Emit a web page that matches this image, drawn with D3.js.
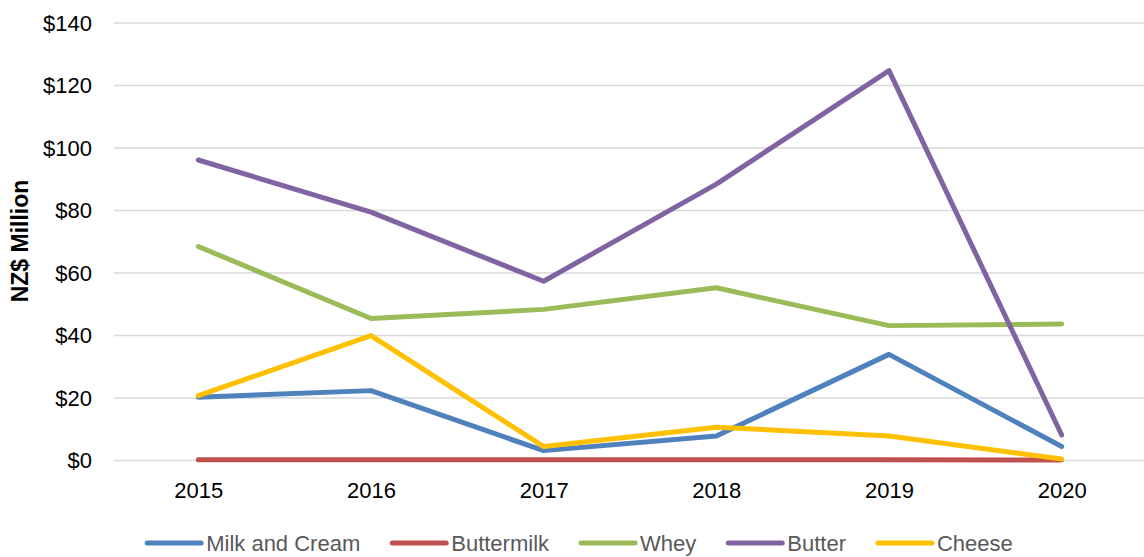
<!DOCTYPE html>
<html>
<head>
<meta charset="utf-8">
<script src="https://cdn.jsdelivr.net/npm/d3@7"></script>
<style>
  html, body { margin: 0; padding: 0; background: #fff; }
  svg { display: block; }
  text { font-family: "Liberation Sans", Arial, sans-serif; }
</style>
</head>
<body>
<svg id="chart" width="1144" height="557"></svg>
<script>
// Dairy export values by product, NZ$ million
const years = ["2015", "2016", "2017", "2018", "2019", "2020"];
const seriesNames = ["Milk and Cream", "Buttermilk", "Whey", "Butter", "Cheese"];
const milkAndCream = [20.1, 22.2, 3.0, 7.7, 33.8, 4.3];
const buttermilk   = [0.1, 0.1, 0.1, 0.1, 0.1, 0.0];
const whey         = [68.3, 45.3, 48.2, 55.1, 43.0, 43.5];
const butter       = [96.0, 79.3, 57.2, 88.3, 124.6, 8.0];
const cheese       = [20.6, 39.8, 4.3, 10.5, 7.7, 0.3];
const yTicks = [0, 20, 40, 60, 80, 100, 120, 140];
const seriesColors = ["#4f81bd", "#c0504d", "#9bbb59", "#8064a2", "#ffc000"];

const series = [milkAndCream, buttermilk, whey, butter, cheese].map((values, i) => ({
  name: seriesNames[i],
  color: seriesColors[i],
  values
}));

const svg = d3.select("#chart");
const plot = { left: 112, right: 1148, top: 22.5, bottom: 460 };

const x = d3.scalePoint().domain(years).range([plot.left, plot.right]).padding(0.5);
const y = d3.scaleLinear().domain([0, 140]).range([plot.bottom, plot.top]);

// Horizontal gridlines
const yAxis = d3.axisLeft(y)
  .tickValues(yTicks)
  .tickSize(-(1144 - plot.left - 2))
  .tickPadding(22)
  .tickFormat(d => "$" + d);

const yg = svg.append("g")
  .attr("transform", `translate(${plot.left + 2},0)`)
  .call(yAxis);
yg.select(".domain").remove();
yg.selectAll(".tick line").attr("stroke", "#d9d9d9").attr("stroke-width", 1.6);
yg.selectAll(".tick text")
  .attr("fill", "#000")
  .style("font-size", "22px")
  .attr("dy", "0.35em");

// Year labels
const xAxis = d3.axisBottom(x).tickSize(0).tickPadding(0);
const xg = svg.append("g").attr("transform", `translate(0,${plot.bottom})`).call(xAxis);
xg.select(".domain").remove();
xg.selectAll(".tick text")
  .attr("fill", "#000")
  .style("font-size", "22px")
  .attr("y", 38)
  .attr("dy", 0);

// Axis title
svg.append("text")
  .attr("transform", "translate(28,241) rotate(-90)")
  .attr("text-anchor", "middle")
  .style("font-size", "23px")
  .style("font-weight", "bold")
  .attr("fill", "#000")
  .text("NZ$ Million");

// Series lines
const line = d3.line()
  .x((d, i) => x(years[i]))
  .y(d => y(d));

svg.append("g").selectAll("path")
  .data(series)
  .join("path")
  .attr("d", d => line(d.values))
  .attr("fill", "none")
  .attr("stroke", d => d.color)
  .attr("stroke-width", 5)
  .attr("stroke-linejoin", "round")
  .attr("stroke-linecap", "round");

// Legend
const legend = svg.append("g").attr("transform", "translate(0,543)");
const swatch = 54, gap = 5, itemGap = 32;
const items = legend.selectAll("g").data(series).join("g");
items.append("line")
  .attr("x1", 0).attr("x2", swatch)
  .attr("y1", 0).attr("y2", 0)
  .attr("stroke", d => d.color)
  .attr("stroke-width", 5)
  .attr("stroke-linecap", "round");
items.append("text")
  .attr("x", swatch + gap)
  .attr("dy", "0.35em")
  .attr("fill", "#595959")
  .style("font-size", "22px")
  .text(d => d.name);

let widths = [];
items.each(function () {
  widths.push(swatch + gap + this.querySelector("text").getComputedTextLength());
});
const total = d3.sum(widths) + itemGap * (widths.length - 1);
let cx = 580 - total / 2;
items.attr("transform", (d, i) => {
  const t = `translate(${cx},0)`;
  cx += widths[i] + itemGap;
  return t;
});
</script>
</body>
</html>
